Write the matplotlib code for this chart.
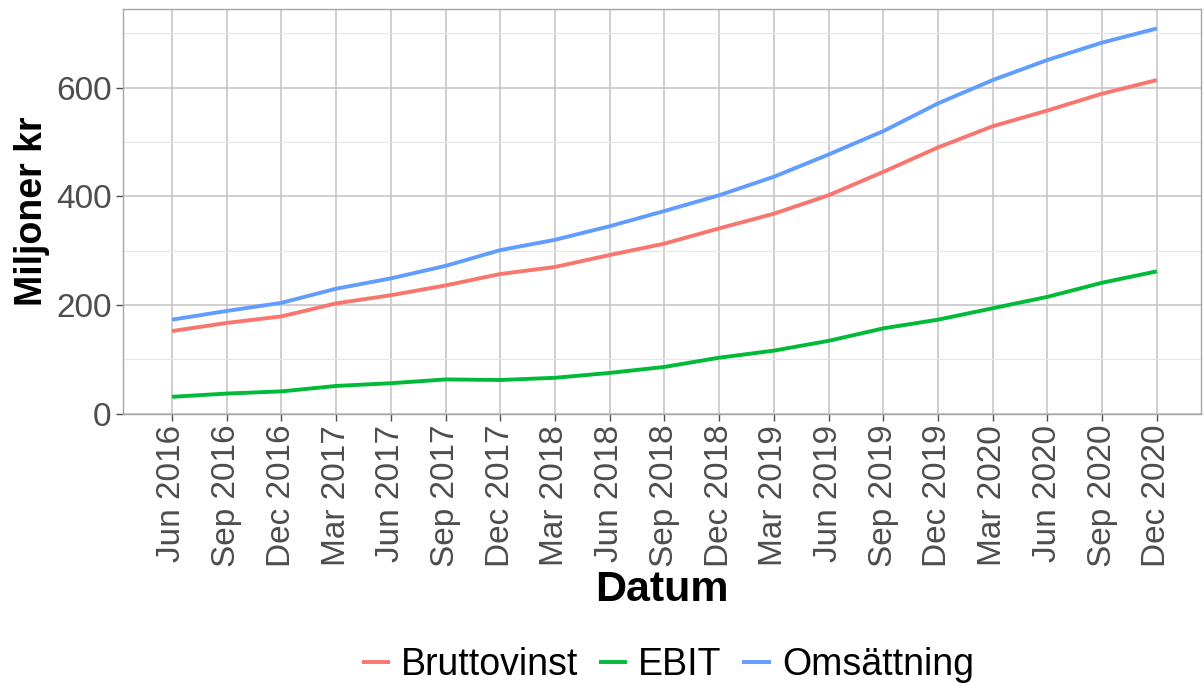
import matplotlib
matplotlib.use("Agg")
import matplotlib.pyplot as plt
from matplotlib.ticker import MultipleLocator

plt.rcParams["font.family"] = ["Liberation Sans", "DejaVu Sans"]

datum = ["Jun 2016", "Sep 2016", "Dec 2016", "Mar 2017", "Jun 2017", "Sep 2017",
         "Dec 2017", "Mar 2018", "Jun 2018", "Sep 2018", "Dec 2018", "Mar 2019",
         "Jun 2019", "Sep 2019", "Dec 2019", "Mar 2020", "Jun 2020", "Sep 2020",
         "Dec 2020"]
bruttovinst = [152, 167, 179, 203, 218, 236, 257, 270, 292, 313, 341, 368,
               402, 445, 490, 529, 558, 589, 614]
ebit = [31, 37, 41, 51, 56, 63, 62, 66, 75, 86, 103, 116,
        134, 157, 173, 194, 215, 241, 262]
omsattning = [173, 189, 204, 230, 249, 272, 301, 320, 345, 373, 402, 436,
              477, 520, 571, 614, 651, 683, 709]

series = [("Bruttovinst", bruttovinst, "#F8766D"),
          ("EBIT", ebit, "#00BA38"),
          ("Omsättning", omsattning, "#619CFF")]

fig = plt.figure(figsize=(12.03, 6.86), dpi=100)
fig.patch.set_facecolor("white")
ax = fig.add_axes([0.102, 0.397, 0.896, 0.590])

x = list(range(len(datum)))
for name, vals, col in series:
    ax.plot(x, vals, color=col, linewidth=2.8, label=name, solid_capstyle="butt", zorder=3)

ax.set_xlim(-0.9, len(datum) - 1 + 0.8)
ax.set_ylim(0, 745)
ax.yaxis.set_major_locator(MultipleLocator(200))
ax.yaxis.set_minor_locator(MultipleLocator(100))
ax.set_xticks(x)
ax.set_xticklabels(datum, rotation=90, ha="center", va="top")

ax.grid(which="major", color="#C2C2C2", linewidth=1.1)
ax.grid(which="minor", axis="y", color="#E6E6E6", linewidth=0.8)
ax.set_axisbelow(True)
for s in ax.spines.values():
    s.set_color("#A6A6A6")
    s.set_linewidth(1.0)

ax.tick_params(axis="both", which="major", labelsize=24, colors="#4D4D4D",
               length=5, width=1.0, pad=3)
ax.tick_params(axis="y", which="minor", length=0)
for lbl in ax.get_xticklabels() + ax.get_yticklabels():
    lbl.set_color("#4D4D4D")

ax.set_ylabel("Miljoner kr", fontsize=27, fontweight="bold", color="black", labelpad=4)
ax.set_xlabel("Datum", fontsize=31, fontweight="bold", color="black", labelpad=2)

fig.legend(loc="lower center", bbox_to_anchor=(0.555, -0.045), ncol=3, frameon=False,
           fontsize=27, handlelength=0.75, handletextpad=0.3, columnspacing=0.55)

fig.savefig("out.png", dpi=100, facecolor="white")
plt.close(fig)
